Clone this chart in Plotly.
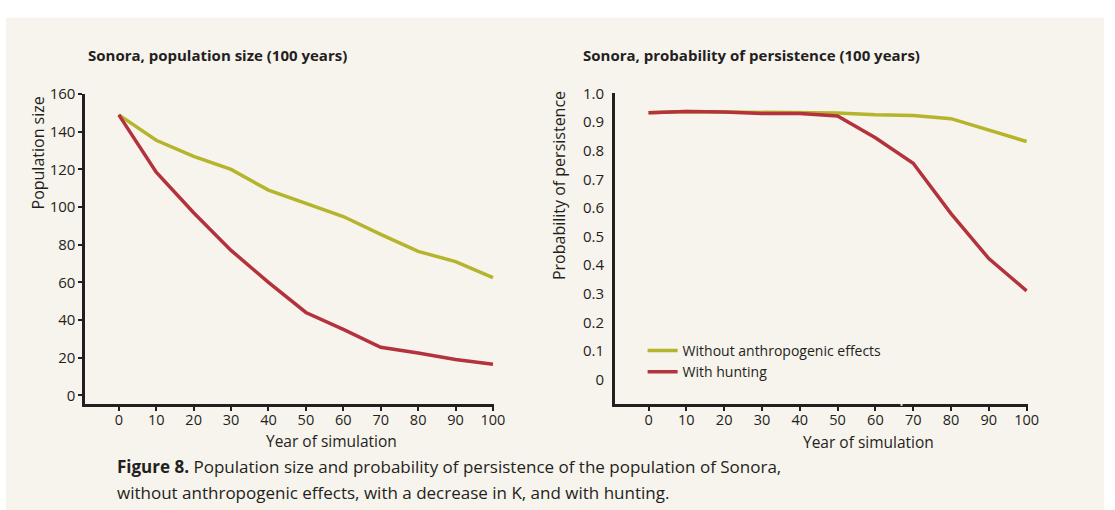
import plotly.graph_objects as go

# Simulation years (x axis for both panels)
years = [0, 10, 20, 30, 40, 50, 60, 70, 80, 90, 100]

# Panel 1: population size
pop_without = [149, 135.5, 127, 120, 109, 102, 95, 85.5, 76.5, 71, 62.5]
pop_hunting = [149, 118.5, 97, 77, 60, 44, 35, 25.5, 22.5, 19, 16.5]

# Panel 2: probability of persistence
persist_without = [0.933, 0.937, 0.935, 0.933, 0.933, 0.932, 0.926, 0.923, 0.912, 0.872, 0.832]
persist_hunting = [0.933, 0.937, 0.935, 0.930, 0.930, 0.921, 0.845, 0.756, 0.580, 0.423, 0.310]

# Axis ticks
pop_ticks = [0, 20, 40, 60, 80, 100, 120, 140, 160]
prob_label_vals = [0, 0.1, 0.2, 0.3, 0.4, 0.5, 0.6, 0.7, 0.8, 0.9, 1.0]
prob_label_text = ["0", "0.1", "0.2", "0.3", "0.4", "0.5", "0.6", "0.7", "0.8", "0.9", "1.0"]
prob_tick_marks = [0, 0.094, 0.188, 0.282, 0.373, 0.465, 0.561, 0.656, 0.749, 0.844, 0.935, 1.0]

series_names = ["Without anthropogenic effects", "With hunting"]

W, H = 1115, 510
FONT = "Open Sans, Noto Sans, DejaVu Sans, sans-serif"
INK = "#231f20"
YELLOW = "#b4b52c"
RED = "#b3323c"
BG = "#f7f3ed"


def px_x(px):
    return px / W


def px_y(py):
    return 1 - py / H


fig = go.Figure()

fig.add_trace(go.Scatter(x=years, y=pop_without, mode="lines", name=series_names[0],
                         line=dict(color=YELLOW, width=3.5), showlegend=False,
                         xaxis="x", yaxis="y"))
fig.add_trace(go.Scatter(x=years, y=pop_hunting, mode="lines", name=series_names[1],
                         line=dict(color=RED, width=3.5), showlegend=False,
                         xaxis="x", yaxis="y"))
fig.add_trace(go.Scatter(x=years, y=persist_without, mode="lines", name=series_names[0],
                         line=dict(color=YELLOW, width=3.5),
                         xaxis="x2", yaxis="y2"))
fig.add_trace(go.Scatter(x=years, y=persist_hunting, mode="lines", name=series_names[1],
                         line=dict(color=RED, width=3.5),
                         xaxis="x2", yaxis="y2"))

axis_common = dict(showline=True, linecolor=INK, linewidth=2.5, showgrid=False,
                   zeroline=False, ticks="outside", ticklen=4, tickwidth=2,
                   tickcolor=INK, tickfont=dict(family=FONT, size=15, color=INK),
                   fixedrange=True)
x_axis_style = {**axis_common, "tickfont": dict(family=FONT, size=14.5, color=INK),
                "ticklabelstandoff": -3}

fig.update_layout(
    width=W, height=H,
    margin=dict(l=0, r=0, t=0, b=0),
    paper_bgcolor="white",
    plot_bgcolor="rgba(0,0,0,0)",
    font=dict(family=FONT, color=INK),
    xaxis=dict(domain=[px_x(86), px_x(499)], range=[-9, 100.3], anchor="y",
               tickvals=years, **x_axis_style),
    yaxis=dict(domain=[px_y(402), px_y(85)], range=[-4.8, 160], anchor="x",
               tickvals=pop_ticks, **axis_common),
    xaxis2=dict(domain=[px_x(621), px_x(1038)], range=[-8.9, 100.3], anchor="y2",
                tickvals=years, **x_axis_style),
    yaxis2=dict(domain=[px_y(402), px_y(84.3)], range=[-0.0865, 1.0], anchor="x2",
                tickvals=prob_label_vals, ticktext=prob_label_text,
                **{**axis_common, "tickcolor": "rgba(0,0,0,0)", "ticklen": 5}),
    yaxis3=dict(overlaying="y2", anchor="x2", range=[-0.0865, 1.0],
                tickvals=prob_tick_marks, showticklabels=False, showline=False,
                showgrid=False, zeroline=False, ticks="outside", ticklen=4,
                tickwidth=2, tickcolor=INK, fixedrange=True),
    legend=dict(x=px_x(649), y=px_y(331), xanchor="left", yanchor="top",
                bgcolor="rgba(0,0,0,0)", font=dict(family=FONT, size=14, color=INK),
                tracegroupgap=0, itemwidth=30),
    shapes=[
        dict(type="rect", xref="paper", yref="paper", x0=px_x(6), x1=1,
             y0=0, y1=px_y(7), fillcolor=BG, line=dict(width=0), layer="below"),
        # small break in the right x axis line
        dict(type="rect", xref="paper", yref="paper", x0=px_x(909.5), x1=px_x(911.5),
             y0=px_y(403.5), y1=px_y(400), fillcolor=BG, line=dict(width=0), layer="above"),
    ],
)

annotations = [
    dict(text="<b>Sonora, population size (100 years)</b>", x=px_x(87), y=px_y(45),
         font=dict(size=15)),
    dict(text="<b>Sonora, probability of persistence (100 years)</b>", x=px_x(587), y=px_y(45),
         font=dict(size=15)),
    dict(text="Population size", x=px_x(38), y=px_y(145), textangle=-90,
         xanchor="center", font=dict(size=16)),
    dict(text="Probability of persistence", x=px_x(564), y=px_y(178.5), textangle=-90,
         xanchor="center", font=dict(size=16)),
    dict(text="Year of simulation", x=px_x(335), y=px_y(439), xanchor="center",
         font=dict(size=15.5)),
    dict(text="Year of simulation", x=px_x(877), y=px_y(440), xanchor="center",
         font=dict(size=15.5)),
    dict(text="<b>Figure 8.</b> Population size and probability of persistence of the population of Sonora,",
         x=px_x(116), y=px_y(466), font=dict(size=17)),
    dict(text="without anthropogenic effects, with a decrease in K, and with hunting.",
         x=px_x(116), y=px_y(492), font=dict(size=17)),
]
for a in annotations:
    a.setdefault("xanchor", "left")
    a.update(xref="paper", yref="paper", yanchor="middle", showarrow=False)
    a["font"] = dict(family=FONT, color=INK, **a["font"])
fig.update_layout(annotations=annotations)

fig.write_html("out.html")
